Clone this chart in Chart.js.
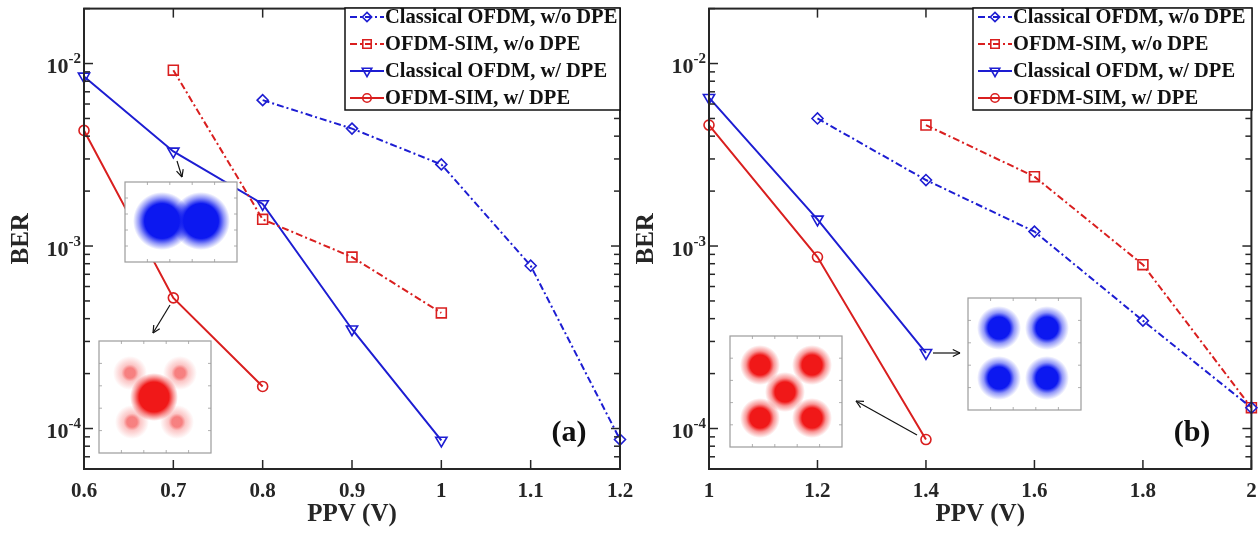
<!DOCTYPE html>
<html>
<head>
<meta charset="utf-8">
<script src="https://cdn.jsdelivr.net/npm/chart.js@4.4.0/dist/chart.umd.min.js"></script>
<style>
html, body { margin: 0; padding: 0; background: #fff; }
#wrap { position: relative; width: 1260px; height: 536px; overflow: hidden; }
canvas { position: absolute; top: 0; }
#chartA { left: 0; }
#chartB { left: 630px; }
</style>
</head>
<body>
<div id="wrap">
  <canvas id="chartA" width="650" height="536"></canvas>
  <canvas id="chartB" width="630" height="536"></canvas>
</div>
<script>
// ---- data ----
const legendLabels = ['Classical OFDM, w/o DPE', 'OFDM-SIM, w/o DPE', 'Classical OFDM, w/ DPE', 'OFDM-SIM, w/ DPE'];

const xTicksA = [0.6, 0.7, 0.8, 0.9, 1, 1.1, 1.2];
const xLabelsA = ['0.6', '0.7', '0.8', '0.9', '1', '1.1', '1.2'];
const xTicksB = [1, 1.2, 1.4, 1.6, 1.8, 2];
const xLabelsB = ['1', '1.2', '1.4', '1.6', '1.8', '2'];
const yTicks = [1e-4, 1e-3, 1e-2];
const yTickExp = ['-4', '-3', '-2'];

// panel (a)
const aClassicalNoDpeX = [0.8, 0.9, 1.0, 1.1, 1.2];
const aClassicalNoDpeY = [6.3e-3, 4.4e-3, 2.8e-3, 7.8e-4, 8.7e-5];
const aSimNoDpeX = [0.7, 0.8, 0.9, 1.0];
const aSimNoDpeY = [9.2e-3, 1.4e-3, 8.7e-4, 4.3e-4];
const aClassicalDpeX = [0.6, 0.7, 0.8, 0.9, 1.0];
const aClassicalDpeY = [8.5e-3, 3.3e-3, 1.7e-3, 3.5e-4, 8.6e-5];
const aSimDpeX = [0.6, 0.7, 0.8];
const aSimDpeY = [4.3e-3, 5.2e-4, 1.7e-4];

// panel (b)
const bClassicalNoDpeX = [1.2, 1.4, 1.6, 1.8, 2.0];
const bClassicalNoDpeY = [5.0e-3, 2.3e-3, 1.2e-3, 3.9e-4, 1.3e-4];
const bSimNoDpeX = [1.4, 1.6, 1.8, 2.0];
const bSimNoDpeY = [4.6e-3, 2.4e-3, 7.9e-4, 1.3e-4];
const bClassicalDpeX = [1.0, 1.2, 1.4];
const bClassicalDpeY = [6.5e-3, 1.4e-3, 2.6e-4];
const bSimDpeX = [1.0, 1.2, 1.4];
const bSimDpeY = [4.6e-3, 8.7e-4, 8.7e-5];

// ---- styles ----
const FONT = "'Liberation Serif', 'Times New Roman', serif";
const BLUE = '#1d1dd2';
const RED = '#d91f1f';
const AXIS = '#262626';
const DASHDOT = [7, 3, 2, 3];

const styles = [
  { color: BLUE, pointStyle: 'rectRot', rotation: 0, radius: 5.5, dash: DASHDOT },
  { color: RED, pointStyle: 'rect', rotation: 0, radius: 7, dash: DASHDOT },
  { color: BLUE, pointStyle: 'triangle', rotation: 180, radius: 6.5, dash: [] },
  { color: RED, pointStyle: 'circle', rotation: 0, radius: 5, dash: [] }
];

function makeSeries(xs, ys, i) {
  const s = styles[i];
  return {
    label: legendLabels[i],
    data: xs.map((x, k) => ({ x: x, y: ys[k] })),
    borderColor: s.color,
    backgroundColor: 'rgba(0,0,0,0)',
    borderWidth: 2,
    borderDash: s.dash,
    pointStyle: s.pointStyle,
    pointRotation: s.rotation,
    pointRadius: s.radius,
    pointBorderWidth: 1.6,
    pointBorderColor: s.color,
    pointBackgroundColor: 'rgba(0,0,0,0)',
    tension: 0,
    fill: false,
    clip: false
  };
}

function line(ctx, x0, y0, x1, y1) {
  ctx.beginPath();
  ctx.moveTo(x0, y0);
  ctx.lineTo(x1, y1);
  ctx.stroke();
}

function drawArrow(ctx, a) {
  ctx.save();
  ctx.strokeStyle = '#111';
  ctx.lineWidth = 1.2;
  line(ctx, a.x0, a.y0, a.x1, a.y1);
  const ang = Math.atan2(a.y1 - a.y0, a.x1 - a.x0);
  const h = 8;
  [0.45, -0.45].forEach(d => {
    line(ctx, a.x1, a.y1, a.x1 - h * Math.cos(ang + d), a.y1 - h * Math.sin(ang + d));
  });
  ctx.restore();
}

function drawInset(ctx, inset) {
  const w = inset.x1 - inset.x0, h = inset.y1 - inset.y0;
  ctx.save();
  ctx.fillStyle = '#fff';
  ctx.fillRect(inset.x0, inset.y0, w, h);
  ctx.beginPath();
  ctx.rect(inset.x0, inset.y0, w, h);
  ctx.clip();
  inset.blobs.forEach(b => {
    const g = ctx.createRadialGradient(b[0], b[1], 0, b[0], b[1], b[2]);
    const c = inset.rgb;
    const al = b[3];
    g.addColorStop(0, `rgba(${c},${al})`);
    g.addColorStop(b[4], `rgba(${c},${al})`);
    g.addColorStop(Math.min(1, b[4] + 0.2), `rgba(${c},${al * 0.45})`);
    g.addColorStop(1, `rgba(${c},0)`);
    ctx.fillStyle = g;
    ctx.beginPath();
    ctx.arc(b[0], b[1], b[2], 0, Math.PI * 2);
    ctx.fill();
  });
  ctx.restore();
  ctx.save();
  ctx.strokeStyle = '#9c9c9c';
  ctx.lineWidth = 1.2;
  ctx.strokeRect(inset.x0, inset.y0, w, h);
  ctx.lineWidth = 0.8;
  for (let k = 1; k < 5; k++) {
    const tx = inset.x0 + w * k / 5, ty = inset.y0 + h * k / 5;
    line(ctx, tx, inset.y0, tx, inset.y0 + 3);
    line(ctx, tx, inset.y1, tx, inset.y1 - 3);
    line(ctx, inset.x0, ty, inset.x0 + 3, ty);
    line(ctx, inset.x1, ty, inset.x1 - 3, ty);
  }
  ctx.restore();
}

const decorPlugin = {
  id: 'decor',
  afterDatasetsDraw(chart, args, panel) {
    const ctx = chart.ctx;
    const a = chart.chartArea;
    const xs = chart.scales.x, ys = chart.scales.y;

    panel.insets.forEach(ins => drawInset(ctx, ins));
    panel.arrows.forEach(ar => drawArrow(ctx, ar));

    ctx.save();
    ctx.strokeStyle = AXIS;
    ctx.lineWidth = 1.5;
    // x ticks, bottom and top
    panel.xTicks.forEach(v => {
      const px = xs.getPixelForValue(v);
      line(ctx, px, a.bottom, px, a.bottom - 9);
      line(ctx, px, a.top, px, a.top + 9);
    });
    // y ticks, major and minor, left and right
    yTicks.concat([1e-5]).forEach(dec => {
      for (let m = 1; m <= 9; m++) {
        const v = m * dec;
        if (v < ys.min * 0.999 || v > ys.max * 1.001) continue;
        const py = ys.getPixelForValue(v);
        const len = m === 1 ? 9 : 6;
        line(ctx, a.left, py, a.left + len, py);
        line(ctx, a.right, py, a.right - len, py);
      }
    });
    ctx.lineWidth = 2;
    ctx.strokeRect(a.left, a.top, a.right - a.left, a.bottom - a.top);

    // tick labels
    ctx.fillStyle = AXIS;
    ctx.font = 'bold 21px ' + FONT;
    ctx.textAlign = 'center';
    ctx.textBaseline = 'middle';
    panel.xTicks.forEach((v, i) => {
      ctx.fillText(panel.xLabels[i], xs.getPixelForValue(v), a.bottom + 23);
    });
    yTicks.forEach((v, i) => {
      const py = ys.getPixelForValue(v);
      ctx.font = 'bold 15px ' + FONT;
      const supW = ctx.measureText(yTickExp[i]).width;
      ctx.textAlign = 'left';
      const xEnd = a.left - 3;
      ctx.fillText(yTickExp[i], xEnd - supW, py - 4);
      ctx.font = 'bold 22px ' + FONT;
      const baseW = ctx.measureText('10').width;
      ctx.fillText('10', xEnd - supW - baseW, py + 4);
    });

    // axis titles
    ctx.font = 'bold 25px ' + FONT;
    ctx.textAlign = 'center';
    ctx.fillText('PPV (V)', (a.left + a.right) / 2, 515);
    ctx.save();
    ctx.translate(panel.berX, (a.top + a.bottom) / 2);
    ctx.rotate(-Math.PI / 2);
    ctx.fillText('BER', 0, 0);
    ctx.restore();

    // panel tag
    ctx.font = 'bold 30px ' + FONT;
    ctx.fillStyle = '#111';
    ctx.fillText(panel.tag, panel.tagX, panel.tagY);
    ctx.restore();

    // legend
    const lb = panel.legendBox;
    ctx.save();
    ctx.fillStyle = '#fff';
    ctx.fillRect(lb.x, lb.y, lb.w, lb.h);
    ctx.strokeStyle = '#111';
    ctx.lineWidth = 1.5;
    ctx.strokeRect(lb.x, lb.y, lb.w, lb.h);
    chart.data.datasets.forEach((ds, i) => {
      const s = styles[i];
      const cy = lb.y + 9 + i * 27;
      ctx.strokeStyle = s.color;
      ctx.lineWidth = 2;
      ctx.setLineDash(s.dash);
      line(ctx, lb.x + 5, cy, lb.x + 39, cy);
      ctx.setLineDash([]);
      ctx.fillStyle = 'rgba(0,0,0,0)';
      ctx.lineWidth = 1.6;
      Chart.helpers.drawPoint(ctx, {
        pointStyle: s.pointStyle, rotation: s.rotation, radius: s.radius * 0.85, borderWidth: 1.6
      }, lb.x + 22, cy);
      ctx.fillStyle = '#111';
      ctx.font = 'bold 20.5px ' + FONT;
      ctx.textAlign = 'left';
      ctx.textBaseline = 'middle';
      ctx.fillText(ds.label, lb.x + 40, cy + 1);
    });
    ctx.restore();
  }
};

function makeChart(panel) {
  const ctx = document.getElementById(panel.canvas).getContext('2d');
  return new Chart(ctx, {
    type: 'line',
    data: { datasets: panel.datasets },
    options: {
      responsive: false,
      animation: false,
      events: [],
      layout: { padding: panel.padding },
      plugins: { legend: { display: false }, tooltip: { enabled: false }, decor: panel },
      scales: {
        x: { type: 'linear', display: false, min: panel.xMin, max: panel.xMax },
        y: { type: 'logarithmic', display: false, min: 6e-5, max: 2e-2 }
      }
    },
    plugins: [decorPlugin]
  });
}

makeChart({
  canvas: 'chartA',
  xMin: 0.6, xMax: 1.2,
  xTicks: xTicksA, xLabels: xLabelsA,
  padding: { left: 84, right: 30, top: 8, bottom: 67 },
  datasets: [
    makeSeries(aClassicalNoDpeX, aClassicalNoDpeY, 0),
    makeSeries(aSimNoDpeX, aSimNoDpeY, 1),
    makeSeries(aClassicalDpeX, aClassicalDpeY, 2),
    makeSeries(aSimDpeX, aSimDpeY, 3)
  ],
  legendBox: { x: 345, y: 8, w: 275, h: 102 },
  berX: 22,
  tag: '(a)', tagX: 569, tagY: 433,
  insets: [
    { x0: 125, y0: 182, x1: 237, y1: 262, rgb: '12,24,240',
      blobs: [[162, 221, 29, 1, 0.6], [201, 221, 29, 1, 0.6]] },
    { x0: 99, y0: 341, x1: 211, y1: 453, rgb: '240,24,24',
      blobs: [[130, 373, 17, 0.55, 0.3], [180, 373, 17, 0.55, 0.3], [132, 422, 17, 0.55, 0.3],
              [177, 422, 17, 0.55, 0.3], [154, 397, 24, 1, 0.62]] }
  ],
  arrows: [
    { x0: 177, y0: 161, x1: 182, y1: 177 },
    { x0: 170, y0: 305, x1: 153, y1: 333 }
  ]
});

makeChart({
  canvas: 'chartB',
  xMin: 1, xMax: 2,
  xTicks: xTicksB, xLabels: xLabelsB,
  padding: { left: 79, right: 8, top: 8, bottom: 67 },
  datasets: [
    makeSeries(bClassicalNoDpeX, bClassicalNoDpeY, 0),
    makeSeries(bSimNoDpeX, bSimNoDpeY, 1),
    makeSeries(bClassicalDpeX, bClassicalDpeY, 2),
    makeSeries(bSimDpeX, bSimDpeY, 3)
  ],
  legendBox: { x: 343, y: 8, w: 279, h: 102 },
  berX: 17,
  tag: '(b)', tagX: 562, tagY: 433,
  insets: [
    { x0: 100, y0: 336, x1: 212, y1: 447, rgb: '240,24,24',
      blobs: [[130, 365, 20, 1, 0.5], [182, 365, 20, 1, 0.5], [155, 392, 20, 1, 0.5],
              [130, 418, 20, 1, 0.5], [182, 418, 20, 1, 0.5]] },
    { x0: 338, y0: 298, x1: 451, y1: 410, rgb: '12,24,240',
      blobs: [[369, 328, 22, 1, 0.5], [417, 328, 22, 1, 0.5], [369, 378, 22, 1, 0.5],
              [417, 378, 22, 1, 0.5]] }
  ],
  arrows: [
    { x0: 287, y0: 435, x1: 226, y1: 401 },
    { x0: 303, y0: 353, x1: 330, y1: 353 }
  ]
});
</script>
</body>
</html>
